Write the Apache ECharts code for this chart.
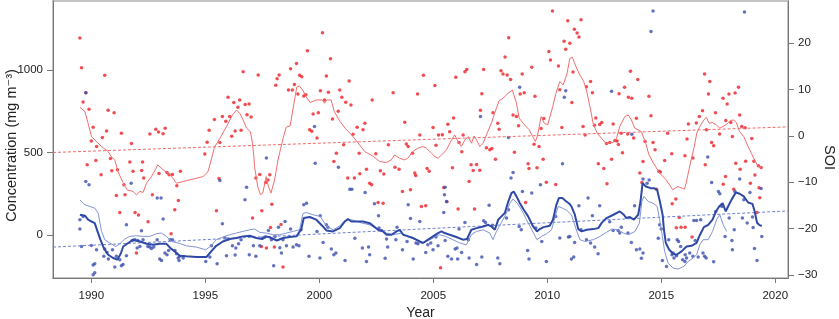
<!DOCTYPE html>
<html>
<head>
  <meta charset="UTF-8">
  <title>Concentration and SOI</title>
  <script src="https://cdn.jsdelivr.net/npm/echarts@6.0.0/dist/echarts.min.js"></script>
  <style>
    html, body { margin: 0; padding: 0; background: #fff; }
    #main { width: 839px; height: 319px; }
  </style>
</head>
<body>
<div id="main"></div>
<script>
// axis ticks
var yearTicks = [1990, 1995, 2000, 2005, 2010, 2015, 2020];
var concTicks = [0, 500, 1000];
var soiTicks = [-30, -20, -10, 0, 10, 20];

// red points [year, concentration]
var redPoints = [
  [1989.5,1193],[1989.57,1013],[1989.76,862],[1989.64,806],[1989.9,762],[1989.82,425],[1990.08,653],[1990.0,570],
  [1990.23,536],[1990.2,451],[1990.43,365],[1990.49,590],[1990.59,967],[1990.67,630],[1990.74,756],[1990.84,463],
  [1990.9,389],[1991.0,741],[1991.1,240],[1991.15,395],[1991.25,137],[1991.32,617],[1991.43,304],[1991.48,244],
  [1991.69,443],[1991.76,554],[1991.83,387],[1991.92,137],[1991.98,-109],[1992.07,121],[1992.21,391],[1992.25,443],
  [1992.3,345],[1992.49,80],[1992.57,612],[1992.68,244],[1992.83,641],[1992.95,624],[1992.97,372],[1993.15,614],
  [1993.24,647],[1993.32,378],[1993.41,365],[1993.5,8],[1993.56,366],[1993.66,153],[1993.75,298],[1993.82,209],
  [1993.91,387],[1994.98,490],[1995.08,562],[1995.17,635],[1995.4,699],[1995.49,147],[1995.6,342],[1995.64,560],
  [1995.75,717],[1995.9,689],[1996.0,834],[1996.07,717],[1996.16,598],[1996.25,802],[1996.31,630],[1996.43,774],
  [1996.51,818],[1996.57,635],[1996.66,989],[1996.75,790],[1996.83,729],[1996.92,794],[1997.01,715],[1997.07,103],
  [1997.22,346],[1997.32,969],[1997.39,366],[1997.46,-69],[1997.48,147],[1997.65,318],[1997.68,-79],[1997.75,334],
  [1997.83,365],[1997.86,46],[1997.92,187],[1998.03,-73],[1998.09,907],[1998.15,947],[1998.24,969],[1998.32,64],
  [1998.41,-193],[1998.65,878],[1998.74,1007],[1998.82,878],[1998.91,911],[1999.0,1038],[1999.06,854],[1999.14,967],
  [1999.23,959],[1999.32,842],[1999.41,850],[1999.48,1116],[1999.58,637],[1999.67,629],[1999.73,733],[1999.9,588],
  [1999.96,741],[2000.05,874],[2000.14,1225],[2000.23,818],[2000.31,963],[2000.4,864],[2000.49,1068],[2000.58,703],
  [2000.64,445],[2000.75,496],[2000.83,750],[2000.9,878],[2000.99,834],[2001.07,546],[2001.16,804],[2001.25,346],
  [2001.31,933],[2001.39,788],[2001.48,611],[2001.54,346],[2001.66,653],[2001.75,496],[2001.78,371],[2001.92,638],
  [2002.0,677],[2002.07,399],[2002.21,314],[2002.3,304],[2002.32,818],[2002.48,492],[2002.58,197],[2002.68,389],
  [2002.8,193],[2002.83,369],[2003.03,546],[2003.24,862],[2003.32,411],[2003.5,399],[2003.65,264],[2003.75,683],
  [2003.82,552],[2003.9,536],[2004.0,274],[2004.09,496],[2004.19,375],[2004.23,360],[2004.31,854],[2004.41,606],
  [2004.48,173],[2004.57,967],[2004.67,177],[2004.73,403],[2004.82,387],[2004.99,651],[2005.07,905],[2005.12,544],
  [2005.23,605],[2005.32,-198],[2005.4,608],[2005.46,288],[2005.6,201],[2005.64,671],[2005.72,625],[2005.84,407],
  [2005.89,709],[2005.99,955],[2006.09,157],[2006.13,560],[2006.25,504],[2006.31,606],[2006.39,989],[2006.47,1003],
  [2006.57,324],[2006.66,425],[2006.75,391],[2006.81,157],[2006.9,427],[2007.04,393],[2007.07,756],[2007.13,856],
  [2007.21,1003],[2007.33,528],[2007.48,516],[2007.57,524],[2007.62,741],[2007.73,459],[2007.83,677],[2007.89,641],
  [2007.97,995],[2008.06,975],[2008.15,1078],[2008.24,969],[2008.31,1195],[2008.39,941],[2008.5,727],[2008.56,502],
  [2008.65,717],[2008.74,661],[2008.81,854],[2008.9,975],[2008.99,862],[2009.05,197],[2009.16,431],[2009.2,403],
  [2009.32,1016],[2009.42,550],[2009.46,840],[2009.55,407],[2009.64,536],[2009.73,645],[2009.82,459],[2009.85,705],
  [2009.96,320],[2010.07,1112],[2010.14,1060],[2010.23,1356],[2010.37,306],[2010.49,1024],[2010.55,880],[2010.64,651],
  [2010.74,1173],[2010.81,1125],[2010.9,1298],[2010.99,1161],[2011.08,802],[2011.13,987],[2011.19,1246],[2011.31,1223],
  [2011.39,1199],[2011.48,1304],[2011.57,657],[2011.66,606],[2011.72,898],[2011.9,929],[2011.98,862],[2012.07,665],
  [2012.13,709],[2012.24,431],[2012.3,669],[2012.39,681],[2012.48,403],[2012.6,554],[2012.62,310],[2012.74,560],
  [2012.82,459],[2012.89,673],[2012.97,572],[2013.06,570],[2013.12,548],[2013.15,856],[2013.24,617],[2013.3,499],
  [2013.39,895],[2013.53,612],[2013.56,834],[2013.65,992],[2013.71,828],[2013.79,588],[2013.91,707],[2013.97,941],
  [2014.06,375],[2014.15,318],[2014.2,445],[2014.29,566],[2014.46,840],[2014.55,723],[2014.64,560],[2014.73,516],
  [2014.79,278],[2014.9,387],[2014.96,381],[2015.15,451],[2015.28,617],[2015.46,492],[2015.48,189],[2015.64,218],
  [2015.66,44],[2015.79,106],[2015.87,48],[2016.04,480],[2016.05,48],[2016.13,582],[2016.19,673],[2016.35,-12],
  [2016.39,467],[2016.54,679],[2016.67,717],[2016.81,752],[2016.9,975],[2016.93,425],[2016.98,637],[2017.07,854],
  [2017.13,929],[2017.21,560],[2017.3,540],[2017.38,741],[2017.56,612],[2017.71,828],[2017.72,308],[2017.82,354],
  [2017.83,693],[2017.89,794],[2017.97,854],[2018.05,681],[2018.12,596],[2018.18,278],[2018.24,860],[2018.27,435],
  [2018.39,895],[2018.44,727],[2018.46,399],[2018.53,657],[2018.68,649],[2018.7,447],[2018.91,314],[2018.97,584],
  [2019.06,447],[2019.11,363],[2019.2,137],[2019.26,419],[2019.29,286],[2019.32,226],[2019.38,409]
];

// blue points [year, concentration]
var bluePoints = [
  [1989.5,36],[1989.5,93],[1989.64,113],[1989.57,-69],[1989.76,862],[1989.76,324],[1989.9,304],[1990.0,-63],
  [1990.08,-181],[1990.08,-240],[1990.15,-228],[1990.15,-174],[1990.23,-89],[1990.55,-129],[1990.59,-85],[1990.69,-105],
  [1990.75,-145],[1990.93,-89],[1991.03,-193],[1991.1,-129],[1991.25,-149],[1991.32,-186],[1991.39,-178],[1991.54,-125],
  [1991.54,62],[1991.75,314],[1991.8,-33],[1991.91,-28],[1992.01,-79],[1992.04,-33],[1992.13,-69],[1992.2,26],
  [1992.27,-28],[1992.48,-69],[1992.57,-73],[1992.64,-81],[1992.74,-73],[1992.89,-28],[1992.89,224],[1993.0,-145],
  [1993.06,224],[1993.08,-154],[1993.15,97],[1993.23,-109],[1993.32,-119],[1993.39,-93],[1993.46,-28],[1993.56,-28],
  [1993.67,-93],[1993.74,-113],[1993.81,-139],[1993.85,-154],[1993.88,-129],[1994.03,-139],[1995.02,-160],[1995.2,-133],
  [1995.27,-65],[1995.52,-174],[1995.64,330],[1995.75,68],[1995.86,-16],[1995.93,-125],[1996.0,-24],[1996.19,-65],
  [1996.31,-121],[1996.34,-79],[1996.46,-53],[1996.57,-28],[1996.74,213],[1996.81,290],[1996.93,-119],[1997.11,-65],
  [1997.22,-129],[1997.39,-65],[1997.51,-18],[1997.62,-12],[1997.68,466],[1997.77,28],[1997.9,-28],[1998.0,-186],
  [1998.06,-8],[1998.21,48],[1998.27,-77],[1998.34,-109],[1998.41,-28],[1998.5,82],[1998.56,-65],[1998.74,36],
  [1998.85,-73],[1999.0,-59],[1999.11,-65],[1999.2,32],[1999.32,183],[1999.44,193],[1999.55,-129],[1999.79,657],
  [1999.82,435],[1999.9,22],[2000.03,-139],[2000.04,117],[2000.17,-45],[2000.31,62],[2000.38,48],[2000.53,-85],
  [2000.64,-119],[2000.73,-109],[2000.84,411],[2001.13,-154],[2001.34,278],[2001.43,278],[2001.56,-20],[2001.89,-79],
  [2002.01,258],[2002.07,-160],[2002.16,-73],[2002.21,-119],[2002.42,189],[2002.6,117],[2002.62,42],[2002.73,28],
  [2002.89,-141],[2002.95,-24],[2003.0,-73],[2003.36,-28],[2003.41,48],[2003.65,-89],[2003.85,-39],[2003.9,183],
  [2004.0,100],[2004.12,-145],[2004.24,-48],[2004.33,-53],[2004.41,82],[2004.67,-105],[2004.76,-59],[2004.89,-48],
  [2004.99,-89],[2005.12,-12],[2005.21,-65],[2005.46,137],[2005.49,244],[2005.52,290],[2005.52,-33],[2005.58,203],
  [2005.64,-129],[2005.8,-145],[2005.96,-85],[2006.04,-79],[2006.07,-145],[2006.13,36],[2006.24,-105],[2006.39,76],
  [2006.54,-28],[2006.57,-139],[2006.9,-178],[2007.07,717],[2007.13,-133],[2007.21,86],[2007.29,76],[2007.45,181],
  [2007.6,60],[2007.83,-139],[2007.92,-174],[2008.21,103],[2008.3,153],[2008.3,590],[2008.41,345],[2008.5,378],
  [2008.77,52],[2008.79,895],[2008.86,32],[2008.91,264],[2009.14,-93],[2009.2,-145],[2009.32,254],[2009.5,42],
  [2009.7,304],[2009.76,-39],[2009.96,-160],[2010.37,113],[2010.55,-18],[2010.67,431],[2010.75,834],[2010.81,874],
  [2010.93,-12],[2010.99,-8],[2011.06,-145],[2011.16,-133],[2011.2,-45],[2011.39,177],[2011.48,32],[2011.72,-28],
  [2011.79,224],[2011.9,-48],[2011.98,117],[2012.08,-73],[2012.23,-113],[2012.3,177],[2012.74,80],[2012.82,871],
  [2012.89,28],[2013.11,28],[2013.18,12],[2013.25,48],[2013.54,12],[2013.69,-45],[2013.71,611],[2013.83,177],
  [2013.91,-89],[2014.06,-85],[2014.13,-141],[2014.2,-109],[2014.2,339],[2014.38,314],[2014.47,334],[2014.55,1233],
  [2014.64,1356],[2014.87,-20],[2014.93,62],[2015.0,36],[2015.05,-154],[2015.23,-190],[2015.33,-28],[2015.47,-119],
  [2015.52,-109],[2015.56,-139],[2015.67,-125],[2015.7,-28],[2015.76,-39],[2015.85,-69],[2015.94,-149],[2016.04,-160],
  [2016.05,-119],[2016.11,-139],[2016.25,-109],[2016.39,-129],[2016.43,88],[2016.49,-33],[2016.55,88],[2016.62,-133],
  [2016.73,93],[2016.83,-109],[2016.9,-129],[2016.97,-139],[2017.04,472],[2017.21,318],[2017.3,-161],[2017.39,143],
  [2017.51,264],[2017.57,250],[2017.66,173],[2017.8,-8],[2017.98,103],[2018.1,-33],[2018.12,-89],[2018.2,32],
  [2018.23,264],[2018.44,339],[2018.56,103],[2018.62,213],[2018.65,1350],[2018.77,73],[2018.89,258],[2019.0,109],
  [2019.03,46],[2019.09,-81],[2019.2,-154],[2019.38,282],[2019.41,-8]
];

// smoothed red series
var redSmooth = [
  [1989.5,774],[1989.72,747],[1989.86,677],[1990.01,596],[1990.23,566],[1990.45,536],[1990.74,505],[1990.88,475],
  [1991.03,455],[1991.17,384],[1991.39,318],[1991.57,274],[1991.83,264],[1991.98,244],[1992.13,264],[1992.27,258],
  [1992.42,314],[1992.64,354],[1992.92,425],[1993.15,395],[1993.36,375],[1993.58,345],[1993.73,314],[1994.02,324],
  [1994.46,339],[1994.9,354],[1995.12,384],[1995.26,455],[1995.4,530],[1995.64,586],[1995.93,657],[1996.19,727],
  [1996.37,757],[1996.51,737],[1996.66,697],[1996.81,647],[1996.98,626],[1997.07,556],[1997.13,475],[1997.16,415],
  [1997.3,294],[1997.42,244],[1997.52,254],[1997.67,354],[1997.77,294],[1997.88,254],[1998.04,334],[1998.19,455],
  [1998.42,590],[1998.55,653],[1998.72,661],[1998.84,757],[1999.01,895],[1999.13,903],[1999.27,878],[1999.42,838],
  [1999.6,802],[1999.86,818],[2000.14,818],[2000.23,798],[2000.33,818],[2000.52,818],[2000.66,747],[2000.91,687],
  [2001.13,647],[2001.42,606],[2001.71,556],[2002.0,505],[2002.36,477],[2002.65,445],[2002.94,439],[2003.16,455],
  [2003.3,485],[2003.52,465],[2003.74,455],[2003.88,465],[2004.1,505],[2004.32,526],[2004.55,536],[2004.7,526],
  [2004.92,496],[2005.07,475],[2005.21,465],[2005.36,485],[2005.58,516],[2005.8,576],[2005.94,606],[2006.09,566],
  [2006.23,536],[2006.39,576],[2006.53,596],[2006.68,556],[2006.79,600],[2006.9,576],[2007.04,536],[2007.19,556],
  [2007.33,606],[2007.55,677],[2007.69,737],[2007.89,814],[2008.06,828],[2008.28,858],[2008.47,878],[2008.65,798],
  [2008.77,707],[2009.0,667],[2009.21,637],[2009.36,596],[2009.48,566],[2009.58,606],[2009.73,717],[2009.87,677],
  [2010.02,667],[2010.24,778],[2010.38,858],[2010.55,929],[2010.7,909],[2010.87,979],[2010.99,1070],[2011.1,1076],
  [2011.2,1040],[2011.39,979],[2011.6,929],[2011.72,878],[2011.9,758],[2012.01,677],[2012.19,617],[2012.38,586],
  [2012.57,556],[2012.89,560],[2013.04,586],[2013.18,657],[2013.4,717],[2013.55,727],[2013.69,697],[2013.84,647],
  [2013.99,637],[2014.13,626],[2014.32,556],[2014.45,490],[2014.64,440],[2014.93,375],[2015.22,334],[2015.51,274],
  [2015.73,294],[2016.02,278],[2016.09,314],[2016.31,455],[2016.45,536],[2016.56,617],[2016.69,657],[2016.87,697],
  [2016.98,713],[2017.1,677],[2017.25,681],[2017.42,667],[2017.56,647],[2017.71,657],[2017.88,673],[2018.03,693],
  [2018.18,697],[2018.29,681],[2018.44,626],[2018.62,596],[2018.81,536],[2018.95,496],[2019.11,451],[2019.21,425],
  [2019.32,411],[2019.41,411]
];

// smoothed blue series (thick)
var blueSmooth = [
  [1989.5,123],[1989.72,117],[1989.86,93],[1990.01,82],[1990.15,72],[1990.3,12],[1990.4,-28],[1990.55,-79],
  [1990.74,-119],[1990.96,-139],[1991.14,-149],[1991.29,-113],[1991.4,-69],[1991.62,-48],[1991.84,-28],[1992.13,-39],
  [1992.43,-53],[1992.72,-59],[1993.0,-53],[1993.3,-53],[1993.47,-79],[1993.66,-99],[1993.88,-125],[1994.17,-129],
  [1994.61,-133],[1995.05,-133],[1995.26,-99],[1995.48,-65],[1995.77,-39],[1996.07,-24],[1996.36,-18],[1996.65,-8],
  [1996.95,-4],[1997.24,-18],[1997.5,-24],[1997.68,-8],[1997.9,-18],[1998.14,-33],[1998.41,-18],[1998.7,-12],
  [1999.0,-8],[1999.21,36],[1999.32,103],[1999.58,109],[1999.87,93],[2000.16,52],[2000.31,28],[2000.6,22],
  [2000.9,42],[2001.12,82],[2001.26,97],[2001.41,82],[2001.63,82],[2001.92,82],[2002.21,72],[2002.36,56],
  [2002.58,32],[2002.8,22],[2002.95,2],[2003.17,2],[2003.39,22],[2003.53,32],[2003.68,2],[2003.9,-8],
  [2004.12,-18],[2004.41,-39],[2004.55,-48],[2004.77,-28],[2004.99,-8],[2005.21,12],[2005.36,22],[2005.5,12],
  [2005.72,2],[2006.01,-12],[2006.3,-28],[2006.48,-24],[2006.67,32],[2006.9,42],[2007.19,52],[2007.41,62],
  [2007.55,52],[2007.7,32],[2007.85,93],[2007.99,113],[2008.14,133],[2008.29,203],[2008.43,254],[2008.53,264],
  [2008.65,234],[2008.8,193],[2008.97,153],[2009.16,113],[2009.38,52],[2009.55,22],[2009.67,36],[2009.84,48],
  [2010.11,56],[2010.25,93],[2010.4,183],[2010.51,224],[2010.66,224],[2010.8,208],[2010.97,190],[2011.06,173],
  [2011.21,123],[2011.36,36],[2011.51,22],[2011.73,32],[2012.02,36],[2012.24,42],[2012.38,72],[2012.6,103],
  [2012.9,123],[2013.18,143],[2013.36,123],[2013.47,103],[2013.62,109],[2013.8,93],[2013.99,123],[2014.09,203],
  [2014.18,314],[2014.33,294],[2014.53,284],[2014.68,284],[2014.82,274],[2014.94,203],[2015.06,123],[2015.12,32],
  [2015.2,-48],[2015.35,-89],[2015.52,-113],[2015.67,-119],[2015.89,-99],[2016.11,-69],[2016.33,-65],[2016.55,-48],
  [2016.7,2],[2016.87,48],[2017.06,62],[2017.25,93],[2017.4,143],[2017.54,173],[2017.69,193],[2017.83,143],
  [2017.93,173],[2018.08,213],[2018.27,258],[2018.44,250],[2018.62,234],[2018.81,197],[2019.0,189],[2019.1,143],
  [2019.2,75],[2019.32,60],[2019.41,55]
];

// smoothed blue series (thin)
var blueSmoothThin = [
  [1989.5,213],[1989.72,183],[1989.94,173],[1990.15,163],[1990.3,133],[1990.45,22],[1990.59,-28],[1990.81,-48],
  [1991.07,-69],[1991.25,-53],[1991.47,-24],[1991.69,-8],[1991.98,-4],[1992.27,-8],[1992.57,-8],[1992.86,8],
  [1993.08,12],[1993.3,-8],[1993.52,-39],[1993.81,-48],[1994.17,-65],[1994.61,-73],[1995.02,-89],[1995.26,-65],
  [1995.48,-28],[1995.77,-12],[1996.07,2],[1996.36,12],[1996.65,22],[1996.95,32],[1997.17,36],[1997.39,16],
  [1997.68,12],[1997.98,2],[1998.27,2],[1998.56,12],[1998.85,22],[1999.14,32],[1999.28,129],[1999.43,137],
  [1999.72,123],[2000.04,113],[2000.33,52],[2000.62,32],[2000.9,56],[2001.12,88],[2001.41,93],[2001.78,76],
  [2002.21,62],[2002.58,32],[2002.95,12],[2003.24,2],[2003.61,12],[2003.9,-12],[2004.27,-28],[2004.48,-48],
  [2004.7,-39],[2004.99,-18],[2005.28,2],[2005.54,-8],[2005.86,-28],[2006.16,-48],[2006.45,-59],[2006.67,2],
  [2006.9,22],[2007.19,32],[2007.48,12],[2007.62,-28],[2007.77,22],[2007.99,76],[2008.21,133],[2008.36,193],
  [2008.5,218],[2008.68,193],[2008.87,153],[2009.09,93],[2009.31,36],[2009.55,-28],[2009.75,-8],[2009.97,8],
  [2010.19,32],[2010.33,103],[2010.48,173],[2010.67,163],[2010.85,150],[2011.06,123],[2011.25,42],[2011.43,-28],
  [2011.65,-39],[2012.02,-28],[2012.32,-8],[2012.54,12],[2012.83,36],[2013.12,32],[2013.34,12],[2013.56,2],
  [2013.85,22],[2014.04,72],[2014.15,203],[2014.24,234],[2014.43,203],[2014.64,193],[2014.82,173],[2014.93,93],
  [2015.05,-8],[2015.15,-99],[2015.3,-170],[2015.52,-200],[2015.74,-206],[2015.99,-190],[2016.18,-160],[2016.4,-139],
  [2016.55,-119],[2016.69,-59],[2016.84,-28],[2017.06,-28],[2017.25,22],[2017.43,93],[2017.57,123],[2017.72,62],
  [2017.87,22]
];

// linear trends
var redTrend = [[1988.32, 500], [2020.56, 655]];
var blueTrend = [[1988.32, -73], [2020.56, 146]];

var fontFam = 'Liberation Sans, Arial, DejaVu Sans, sans-serif';
var axisGray = '#777';

function plainNum(v) {
  return String(v).replace('-', '\u2212');
}

var myChart = echarts.init(document.getElementById('main'), null, { renderer: 'canvas' });

var option = {
  animation: false,
  backgroundColor: '#fff',
  grid: {
    left: 53, right: 51, top: 1, bottom: 41,
    containLabel: false,
    outerBoundsMode: 'none',
    show: true, borderColor: '#c4c4c4', borderWidth: 2
  },
  xAxis: {
    type: 'value',
    min: 1988.32, max: 2020.56,
    name: 'Year', nameLocation: 'middle', nameGap: 28, nameMoveOverlap: false,
    nameTextStyle: { fontFamily: fontFam, fontSize: 14, color: '#222' },
    axisLine: { show: true, onZero: false, lineStyle: { color: axisGray, width: 1 } },
    axisTick: { show: true, length: 5, customValues: yearTicks, lineStyle: { color: axisGray } },
    axisLabel: { customValues: yearTicks, margin: 12, fontFamily: fontFam, fontSize: 11.5, color: '#222', formatter: plainNum },
    splitLine: { show: false }
  },
  yAxis: [{
    type: 'value',
    min: -260, max: 1417,
    position: 'left',
    name: 'Concentration (mg m\u207B\u00B3)', nameLocation: 'middle', nameGap: 34, nameRotate: 90,
    nameMoveOverlap: false,
    nameTextStyle: { fontFamily: fontFam, fontSize: 14.5, color: '#222', padding: [0, 12, 0, 0] },
    axisLine: { show: true, lineStyle: { color: axisGray, width: 1 } },
    axisTick: { show: true, length: 6, customValues: concTicks, lineStyle: { color: axisGray } },
    axisLabel: { customValues: concTicks, margin: 10, fontFamily: fontFam, fontSize: 11.5, color: '#222', formatter: plainNum },
    splitLine: { show: false }
  }, {
    type: 'value',
    min: -30.65, max: 29.1,
    position: 'right',
    name: 'SOI', nameLocation: 'middle', nameGap: 33, nameRotate: -90,
    nameMoveOverlap: false,
    nameTextStyle: { fontFamily: fontFam, fontSize: 14.5, color: '#222', padding: [0, 0, 0, 36] },
    axisLine: { show: true, lineStyle: { color: axisGray, width: 1 } },
    axisTick: { show: true, length: 6, customValues: soiTicks, lineStyle: { color: axisGray } },
    axisLabel: { customValues: soiTicks, margin: 10, fontFamily: fontFam, fontSize: 11.5, color: '#222', formatter: plainNum },
    splitLine: { show: false }
  }],
  series: [
    {
      name: 'red points', type: 'scatter', data: redPoints,
      symbol: 'circle', symbolSize: 3.5,
      itemStyle: { color: '#ec2027' }
    },
    {
      name: 'blue points', type: 'scatter', data: bluePoints,
      symbol: 'circle', symbolSize: 3.5,
      itemStyle: { color: '#3b4fae' }
    },
    {
      name: 'red trend', type: 'line', data: redTrend, showSymbol: false,
      lineStyle: { color: '#f06a6a', width: 1, type: [3, 2] }
    },
    {
      name: 'blue trend', type: 'line', data: blueTrend, showSymbol: false,
      lineStyle: { color: '#6f82cf', width: 1, type: [3, 2] }
    },
    {
      name: 'red smooth', type: 'line', data: redSmooth, showSymbol: false,
      lineStyle: { color: '#f26e6e', width: 1 }
    },
    {
      name: 'blue smooth thin', type: 'line', data: blueSmoothThin, showSymbol: false,
      lineStyle: { color: '#8494d6', width: 1 }
    },
    {
      name: 'blue smooth', type: 'line', data: blueSmooth, showSymbol: false,
      lineStyle: { color: '#2f49a6', width: 2 }
    }
  ]
};
myChart.setOption(option);
</script>
</body>
</html>
